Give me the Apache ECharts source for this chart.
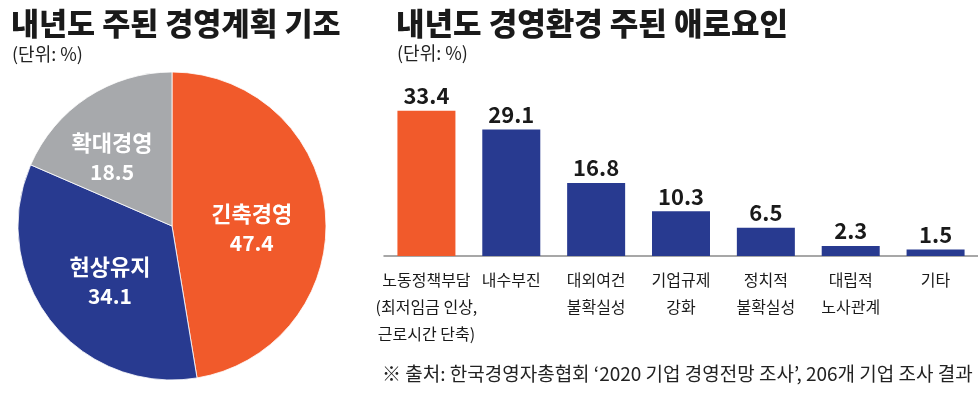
<!DOCTYPE html>
<html>
<head>
<meta charset="utf-8">
<script src="https://cdn.jsdelivr.net/npm/echarts@6/dist/echarts.min.js"></script>
<style>
html,body{margin:0;padding:0;background:#fff;}
#c{width:978px;height:394px;}
</style>
</head>
<body>
<div id="c"></div>
<script>
// Pie data
const pieNames = ['긴축경영', '현상유지', '확대경영'];
const pieValues = [47.4, 34.1, 18.5];
const pieColors = ['#F15A2B', '#283A90', '#A7A9AC'];

// Bar data
const barCategories = [
  '노동정책부담\n(최저임금 인상,\n근로시간 단축)',
  '내수부진',
  '대외여건\n불확실성',
  '기업규제\n강화',
  '정치적\n불확실성',
  '대립적\n노사관계',
  '기타'
];
const barValues = [33.4, 29.1, 16.8, 10.3, 6.5, 2.3, 1.5];
const barHighlight = [true, false, false, false, false, false, false];

const leftTitle = '내년도 주된 경영계획 기조';
const rightTitle = '내년도 경영환경 주된 애로요인';
const unitText = '(단위: %)';
const sourceText = '※ 출처: 한국경영자총협회 ‘2020 기업 경영전망 조사’, 206개 기업 조사 결과';

const FONT = '"Noto Sans CJK KR", "Noto Sans", sans-serif';
const ORANGE = '#F15A2B', NAVY = '#283A90';

// label nudges for pie slices (style only)
const pieLabelOffsets = [[0, 8], [1, 5], [-16, -3]];

const chart = echarts.init(document.getElementById('c'), null, {renderer: 'canvas'});
chart.setOption({
  backgroundColor: '#fff',
  animation: false,
  title: [
    {text: leftTitle, left: 6, top: 3, textStyle: {fontFamily: FONT, fontSize: 30.5, fontWeight: 900, color: '#1a1a1a'}},
    {text: unitText, left: 7, top: 40, textStyle: {fontFamily: FONT, fontSize: 18, fontWeight: 'normal', color: '#222'}},
    {text: rightTitle, left: 391, top: 3, textStyle: {fontFamily: FONT, fontSize: 31, fontWeight: 900, color: '#1a1a1a'}},
    {text: unitText, left: 392, top: 39, textStyle: {fontFamily: FONT, fontSize: 18, fontWeight: 'normal', color: '#222'}},
    {text: sourceText, left: 377, top: 359, textStyle: {fontFamily: FONT, fontSize: 19, fontWeight: 'normal', color: '#222'}}
  ],
  grid: {left: 384, width: 596, top: 82, bottom: 138, containLabel: false},
  xAxis: {
    type: 'category',
    data: barCategories,
    axisLine: {show: true, lineStyle: {color: '#8a8a8a', width: 1.5}},
    axisTick: {show: false},
    axisLabel: {interval: 0, margin: 10, fontFamily: FONT, fontSize: 16, lineHeight: 27, color: '#1a1a1a'}
  },
  yAxis: {
    type: 'value', min: 0, max: 40,
    show: false,
    splitLine: {show: false}
  },
  series: [
    {
      type: 'pie',
      center: [172, 226],
      radius: [0, 154],
      startAngle: 90,
      clockwise: true,
      data: pieNames.map((n, i) => ({name: n, value: pieValues[i], itemStyle: {color: pieColors[i]}, label: {offset: pieLabelOffsets[i]}})),
      itemStyle: {borderColor: '#fff', borderWidth: 0.8},
      label: {
        show: true,
        position: 'inside',
        formatter: '{n|{b}}\n{v|{c}}',
        rich: {
          n: {fontFamily: FONT, fontSize: 22, fontWeight: 'bold', color: '#fff', lineHeight: 31},
          v: {fontFamily: FONT, fontSize: 21, fontWeight: 'bold', color: '#fff', lineHeight: 27}
        }
      },
      labelLine: {show: false},
      emphasis: {disabled: true}
    },
    {
      type: 'bar',
      barWidth: 58,
      data: barValues.map((v, i) => ({value: v, itemStyle: {color: barHighlight[i] ? ORANGE : NAVY}})),
      label: {
        show: true, position: 'top', distance: 4,
        fontFamily: FONT, fontSize: 22, fontWeight: 'bold', color: '#1a1a1a'
      },
      emphasis: {disabled: true}
    }
  ]
});
</script>
</body>
</html>
